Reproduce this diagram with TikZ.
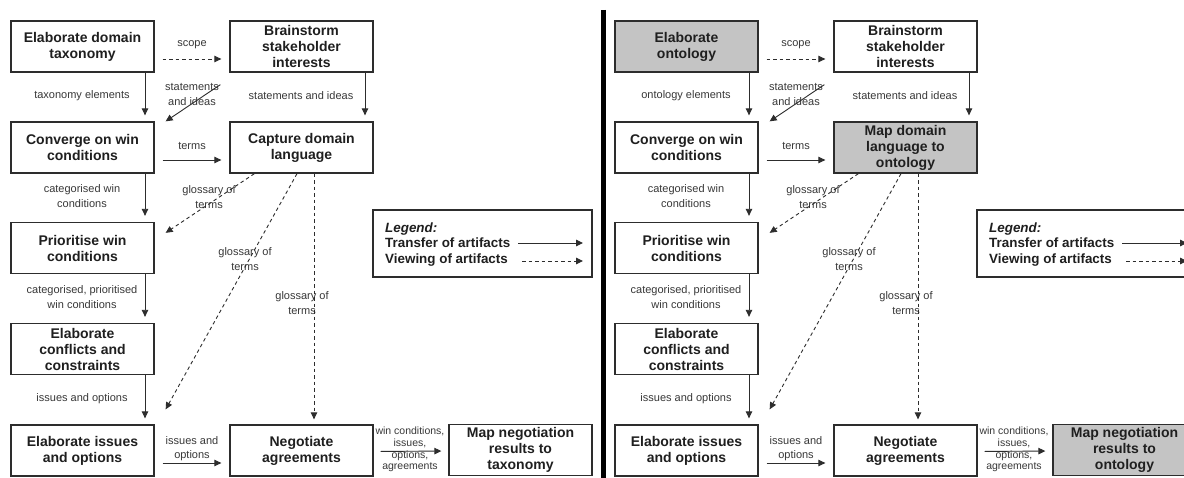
\documentclass[tikz,border=0pt]{standalone}
\usepackage{fontspec}
\setmainfont{Liberation Sans}
\usetikzlibrary{arrows.meta}
\definecolor{boxgray}{RGB}{196,196,196}
\definecolor{ink}{RGB}{45,45,45}
\tikzset{
  box/.style={draw=ink, line width=1.3pt, minimum width=143pt, minimum height=51pt,
    inner sep=0pt, align=center, font=\fontsize{14}{16}\selectfont\bfseries, text=black!88},
  lbl/.style={font=\fontsize{11}{15}\selectfont, text=black!78, align=center, inner sep=0pt},
  lblsmall/.style={font=\fontsize{10.5}{11.7}\selectfont, text=black!78, align=center, inner sep=0pt},
  legtext/.style={font=\fontsize{13.4}{16}\selectfont\bfseries, text=black!88, anchor=base west, inner sep=0pt},
  tipped/.style={-{Triangle[length=7pt,width=6.5pt]}},
  xfer/.style={tipped, draw=ink, line width=0.9pt},
  view/.style={tipped, draw=ink, line width=0.9pt, dash pattern=on 3.5pt off 3pt},
}
\newcommand\drawhalf[9]{%
\begin{scope}[xshift=#2]
  \node[box, fill=#4] (#1A) at (82.5,46.5) {#3};
  \node[box, fill=white] (#1B) at (301.5,46.5) {Brainstorm\\stakeholder\\interests};
  \node[box, fill=white] (#1C) at (82.5,147.5) {Converge on win\\conditions};
  \node[box, fill=#7] (#1D) at (301.5,147.5) {#6};
  \node[box, fill=white] (#1E) at (82.5,248) {Prioritise win\\conditions};
  \node[box, fill=white] (#1F) at (82.5,349) {Elaborate\\conflicts and\\constraints};
  \node[box, fill=white] (#1G) at (82.5,450.5) {Elaborate issues\\and options};
  \node[box, fill=white] (#1H) at (301.5,450.5) {Negotiate\\agreements};
  \node[box, fill=#9] (#1I) at (520.5,450) {#8};
  % labels
  \node[lbl] (#1lAB) at (192,45) {scope};
  \node[lbl] (#1lAC) at (82,96) {#5};
  \node[lbl] (#1lBC) at (192,95) {statements\\and ideas};
  \node[lbl] (#1lBD) at (301,96) {statements and ideas};
  \node[lbl] (#1lCD) at (192,146) {terms};
  \node[lbl] (#1lCE) at (82,196.5) {categorised win\\conditions};
  \node[lbl] (#1lDE) at (209,197) {glossary of\\terms};
  \node[lbl] (#1lDG) at (245,259.5) {glossary of\\terms};
  \node[lbl] (#1lDH) at (302,303.5) {glossary of\\terms};
  \node[lbl] (#1lEF) at (82,297.5) {categorised, prioritised\\win conditions};
  \node[lbl] (#1lFG) at (82,399) {issues and options};
  \node[lbl, font=\fontsize{11}{14}\selectfont] (#1lGH) at (192,449) {issues and\\options};
  \node[lblsmall] (#1lHI) at (410,449.5) {win conditions,\\issues,\\options,\\agreements};
  % connectors
  \draw[view, shorten <=8pt, shorten >=8pt] ([yshift=-12.5pt]#1A.east) -- ([yshift=-12.5pt]#1B.west);
  \draw[xfer, shorten >=6pt] ([xshift=62.5pt]#1A.south) -- ([xshift=62.5pt]#1C.north);
  \draw[xfer] ([xshift=-9pt,yshift=-12pt]#1B.south west) -- ([xshift=11pt]#1C.north east);
  \draw[xfer, shorten >=6pt] ([xshift=63.5pt]#1B.south) -- ([xshift=63.5pt]#1D.north);
  \draw[xfer, shorten <=8pt, shorten >=8pt] ([yshift=-12.5pt]#1C.east) -- ([yshift=-12.5pt]#1D.west);
  \draw[xfer, shorten >=6pt] ([xshift=62.5pt]#1C.south) -- ([xshift=62.5pt]#1E.north);
  \draw[view] ([xshift=25pt]#1D.south west) -- ([xshift=11pt,yshift=-11pt]#1E.north east);
  \draw[view] ([xshift=-4.5pt]#1D.south) -- ([xshift=11pt,yshift=15pt]#1G.north east);
  \draw[view, shorten >=5pt] ([xshift=12.5pt]#1D.south) -- ([xshift=12.5pt]#1H.north);
  \draw[xfer, shorten >=6pt] ([xshift=62.5pt]#1E.south) -- ([xshift=62.5pt]#1F.north);
  \draw[xfer, shorten >=6pt] ([xshift=62.5pt]#1F.south) -- ([xshift=62.5pt]#1G.north);
  \draw[xfer, shorten <=8pt, shorten >=8pt] ([yshift=-12.5pt]#1G.east) -- ([yshift=-12.5pt]#1H.west);
  \draw[xfer, shorten <=7pt, shorten >=7pt] ([yshift=-1pt]#1H.east) -- ([yshift=-1pt]#1I.west);
  % legend
  \node[draw=ink, line width=1.2pt, minimum width=219pt, minimum height=67pt, inner sep=0pt] (#1leg) at (482.5,243.5) {};
  \node[legtext] (#1legt) at (385,233) {\textit{Legend:}};
  \node[legtext] (#1legx) at (385,247.5) {Transfer of artifacts};
  \node[legtext] (#1legv) at (385,264) {Viewing of artifacts};
  \coordinate (#1lxs) at (518,243);
  \coordinate (#1lxe) at (583,243);
  \coordinate (#1lvs) at (522,261);
  \coordinate (#1lve) at (583,261);
  \draw[xfer] (#1lxs) -- (#1lxe);
  \draw[view] (#1lvs) -- (#1lve);
\end{scope}}
\begin{document}
\begin{tikzpicture}[x=1pt, y=-1pt]
  \useasboundingbox (0,0) rectangle (1184,478);
  \clip (0,0) rectangle (1184,478);
  \fill[white] (0,0) rectangle (1184,478);
  \drawhalf{L}{0pt}{Elaborate domain\\taxonomy}{white}{taxonomy elements}{Capture domain\\language}{white}{Map negotiation\\results to\\taxonomy}{white}
  \drawhalf{R}{604pt}{Elaborate\\ontology}{boxgray}{ontology elements}{Map domain\\language to\\ontology}{boxgray}{Map negotiation\\results to\\ontology}{boxgray}
  \draw[line width=5pt] (603.5,10) -- (603.5,478);
\end{tikzpicture}
\end{document}
